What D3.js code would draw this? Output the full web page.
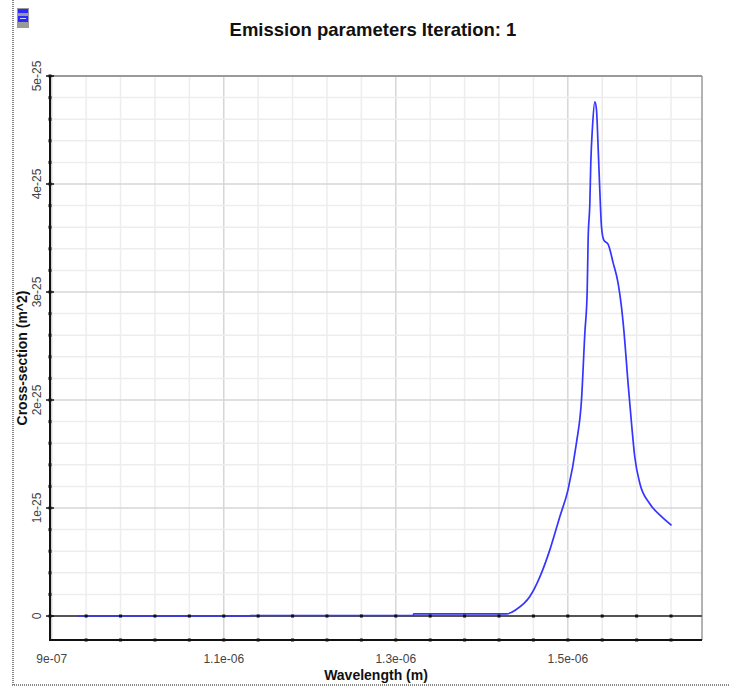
<!DOCTYPE html>
<html>
<head>
<meta charset="utf-8">
<script src="https://cdn.jsdelivr.net/npm/d3@7"></script>
<style>
  body { margin: 0; background: #fff; }
  svg { display: block; font-family: "Liberation Sans", Arial, sans-serif; }
</style>
</head>
<body>
<svg id="canvas"></svg>
<script>
// emission cross-section
const wavelength = [
  0.930e-6, 1.130e-6, 1.131e-6, 1.320e-6, 1.321e-6, 1.429e-6, 1.440e-6,
  1.4558e-6, 1.4674e-6, 1.479e-6, 1.4907e-6, 1.5003e-6, 1.510e-6, 1.5159e-6,
  1.5198e-6, 1.5225e-6, 1.5236e-6, 1.5256e-6, 1.5267e-6, 1.5287e-6, 1.5314e-6,
  1.5333e-6, 1.5352e-6, 1.5372e-6, 1.5392e-6, 1.5419e-6, 1.5469e-6, 1.5527e-6,
  1.5585e-6, 1.5624e-6, 1.5651e-6, 1.5701e-6, 1.5741e-6, 1.5779e-6, 1.5837e-6,
  1.5953e-6, 1.609e-6, 1.6206e-6
];
const crossSection = [
  0, 0, 0.005e-25, 0.005e-25, 0.02e-25, 0.02e-25, 0.06e-25,
  0.18e-25, 0.36e-25, 0.61e-25, 0.92e-25, 1.17e-25, 1.60e-25, 2.0e-25,
  2.62e-25, 3.0e-25, 3.48e-25, 3.82e-25, 4.19e-25, 4.53e-25, 4.76e-25,
  4.69e-25, 4.35e-25, 3.94e-25, 3.60e-25, 3.48e-25, 3.44e-25, 3.27e-25,
  3.08e-25, 2.86e-25, 2.65e-25, 2.15e-25, 1.78e-25, 1.47e-25, 1.23e-25,
  1.04e-25, 0.92e-25, 0.84e-25
];
const xTickValues = [0.9e-6, 1.1e-6, 1.3e-6, 1.5e-6];
const xTickLabels = ["9e-07", "1.1e-06", "1.3e-06", "1.5e-06"];
const yTickValues = [0, 1e-25, 2e-25, 3e-25, 4e-25, 5e-25];
const yTickLabels = ["0", "1e-25", "2e-25", "3e-25", "4e-25", "5e-25"];

const width = 730, height = 686;
const svg = d3.select("#canvas").attr("width", width).attr("height", height);

const x = d3.scaleLinear().domain([0.898e-6, 1.656e-6]).range([50, 702]);
const y = d3.scaleLinear().domain([-0.222e-25, 5e-25]).range([640, 76]);

// outer frame (dashed like the window edge)
svg.append("line")
  .attr("x1", 13).attr("x2", 13).attr("y1", 0).attr("y2", 686)
  .attr("stroke", "#888").attr("stroke-width", 2).attr("stroke-dasharray", "1,1");
svg.append("line")
  .attr("x1", 12).attr("x2", 730).attr("y1", 685).attr("y2", 685)
  .attr("stroke", "#888").attr("stroke-width", 2).attr("stroke-dasharray", "1,1");

// little icon top-left
const icon = svg.append("g").attr("transform", "translate(17,8)");
icon.append("rect").attr("width", 12).attr("height", 20).attr("fill", "#9a9a9a");
icon.append("rect").attr("x", 1).attr("y", 1).attr("width", 10).attr("height", 4).attr("fill", "#2a2aff");
icon.append("rect").attr("x", 1).attr("y", 8).attr("width", 10).attr("height", 6).attr("fill", "#2a2aff");
icon.append("rect").attr("x", 3).attr("y", 10).attr("width", 6).attr("height", 1).attr("fill", "#cfd8ff");

// grid
const xMinor = d3.range(0, 20).map(i => 0.9e-6 + i * 0.04e-6).filter(v => x(v) > 51 && x(v) < 702);
const yMinor = d3.range(0, 26).map(i => i * 0.2e-25);

svg.append("g").selectAll("line").data(xMinor).join("line")
  .attr("x1", d => x(d)).attr("x2", d => x(d))
  .attr("y1", 76).attr("y2", 640)
  .attr("stroke", d => xTickValues.some(t => Math.abs(t - d) < 1e-9) ? "#d6d6d6" : "#ededed")
  .attr("stroke-width", 1.5);

svg.append("g").selectAll("line").data(yMinor).join("line")
  .attr("x1", 50).attr("x2", 702)
  .attr("y1", d => y(d)).attr("y2", d => y(d))
  .attr("stroke", (d, i) => i % 5 === 0 ? "#d6d6d6" : "#ededed")
  .attr("stroke-width", 1.5);

// frame top and right
svg.append("line").attr("x1", 50).attr("x2", 702).attr("y1", 76).attr("y2", 76)
  .attr("stroke", "#9a9a9a").attr("stroke-width", 2);
svg.append("line").attr("x1", 702).attr("x2", 702).attr("y1", 76).attr("y2", 640)
  .attr("stroke", "#9a9a9a").attr("stroke-width", 1.5);

// zero line
svg.append("line").attr("x1", 50).attr("x2", 702).attr("y1", y(0)).attr("y2", y(0))
  .attr("stroke", "#555").attr("stroke-width", 2);

// curve
const line = d3.line()
  .x((d, i) => x(wavelength[i]))
  .y(d => y(d))
  .curve(d3.curveMonotoneX);

svg.append("path")
  .datum(crossSection)
  .attr("fill", "none")
  .attr("stroke", "#3535ff")
  .attr("stroke-width", 1.7)
  .attr("d", line);

// axes
svg.append("line").attr("x1", 50).attr("x2", 702).attr("y1", 640).attr("y2", 640)
  .attr("stroke", "#111").attr("stroke-width", 2);
svg.append("line").attr("x1", 50).attr("x2", 50).attr("y1", 76).attr("y2", 641)
  .attr("stroke", "#111").attr("stroke-width", 2);

// tick dots on the bottom axis and zero line
[640, y(0)].forEach(yy => {
  svg.append("g").selectAll("rect").data(xMinor.slice(1)).join("rect")
    .attr("x", d => x(d) - 1.5).attr("y", yy - 1.5)
    .attr("width", 3).attr("height", 3).attr("fill", "#111");
});
svg.append("g").selectAll("rect").data(yMinor).join("rect")
  .attr("x", 48.5).attr("y", d => y(d) - 1.5)
  .attr("width", 3).attr("height", 3).attr("fill", "#111");
svg.append("g").selectAll("line").data(yTickValues).join("line")
  .attr("x1", 46).attr("x2", 54).attr("y1", d => y(d)).attr("y2", d => y(d))
  .attr("stroke", "#111").attr("stroke-width", 1.5);

// tick labels
svg.append("g").selectAll("text").data(xTickValues).join("text")
  .attr("x", d => x(d)).attr("y", 663)
  .attr("text-anchor", "middle")
  .attr("font-size", 12).attr("fill", "#444")
  .text((d, i) => xTickLabels[i]);

svg.append("g").selectAll("text").data(yTickValues).join("text")
  .attr("transform", d => `translate(41,${y(d)}) rotate(-90)`)
  .attr("text-anchor", "middle")
  .attr("font-size", 12).attr("fill", "#444")
  .text((d, i) => yTickLabels[i]);

// titles
svg.append("text")
  .attr("x", 373).attr("y", 36)
  .attr("text-anchor", "middle")
  .attr("font-size", 18.5).attr("font-weight", "bold").attr("fill", "#111")
  .text("Emission parameters Iteration: 1");

svg.append("text")
  .attr("x", 376).attr("y", 680)
  .attr("text-anchor", "middle")
  .attr("font-size", 14).attr("font-weight", "bold").attr("fill", "#111")
  .text("Wavelength (m)");

svg.append("text")
  .attr("transform", "translate(27,358) rotate(-90)")
  .attr("text-anchor", "middle")
  .attr("font-size", 14).attr("font-weight", "bold").attr("fill", "#111")
  .text("Cross-section (m^2)");
</script>
</body>
</html>
